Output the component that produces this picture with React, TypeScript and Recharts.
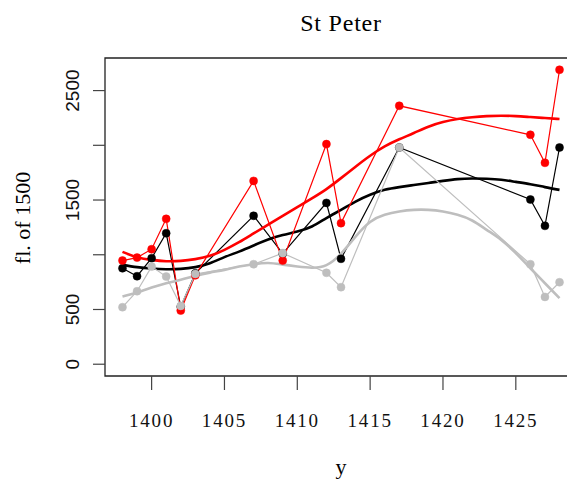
import React from 'react';
import { ComposedChart, Line, XAxis, YAxis, ReferenceArea } from 'recharts';

const years = [1398, 1399, 1400, 1401, 1402, 1403, 1407, 1409, 1412, 1413, 1417, 1426, 1427, 1428];
const blackVals = [877, 804, 969, 1197, 525, 830, 1356, 1010, 1474, 963, 1980, 1505, 1264, 1980];
const redVals = [947, 974, 1051, 1328, 490, 812, 1675, 947, 2011, 1289, 2361, 2096, 1840, 2690];
const grayVals = [521, 667, 892, 801, 533, 825, 914, 1015, 835, 704, 1980, 914, 615, 749];

const smoothYears = [1398, 1399, 1400, 1401, 1402, 1403, 1404, 1405, 1406, 1407, 1408, 1409, 1410, 1411, 1412, 1413, 1414, 1415, 1416, 1417, 1418, 1419, 1420, 1421, 1422, 1423, 1424, 1425, 1426, 1427, 1428];
const blackSmooth = [908, 887, 874, 868, 871, 887, 923, 978, 1029, 1085, 1140, 1180, 1212, 1258, 1335, 1410, 1486, 1548, 1593, 1618, 1637, 1656, 1675, 1691, 1697, 1694, 1685, 1666, 1645, 1618, 1593];
const redSmooth = [1026, 978, 953, 941, 944, 960, 990, 1045, 1115, 1195, 1275, 1355, 1435, 1515, 1600, 1700, 1805, 1905, 1990, 2055, 2112, 2170, 2212, 2240, 2257, 2267, 2270, 2267, 2258, 2249, 2240];
const graySmooth = [618, 655, 700, 740, 771, 807, 837, 862, 892, 914, 925, 910, 893, 882, 905, 1010, 1166, 1300, 1365, 1395, 1410, 1410, 1395, 1365, 1313, 1228, 1136, 1015, 877, 740, 603];

const xTicks = [1400, 1405, 1410, 1415, 1420, 1425];
const yTicks = [0, 500, 1000, 1500, 2000, 2500];
const yLabelled = [0, 500, 1500, 2500];

const title = 'St Peter';
const xTitle = 'y';
const yTitle = 'fl. of 1500';

const RED = '#FF0000';
const GRAY = '#BEBEBE';
const BLACK = '#000000';

const raw = (vals: number[]) => years.map((x, i) => ({ x, v: vals[i] }));
const smooth = (vals: number[]) => smoothYears.map((x, i) => ({ x, v: vals[i] }));

const XDOM: [number, number] = [1396.8, 1429.2];
const YDOM: [number, number] = [-107.6, 2797.6];

const serif = '"Liberation Serif", "DejaVu Serif", serif';
const sans = '"Liberation Sans", Arial, sans-serif';

const XTick = (props: any) => {
  const { x, payload } = props;
  return (
    <text x={x} y={427} textAnchor="middle" fontFamily={serif} fontSize={19} letterSpacing={1.8} fill="#111">
      {payload.value}
    </text>
  );
};

const YTick = (props: any) => {
  const { y, payload } = props;
  if (!yLabelled.includes(payload.value)) return <g />;
  return (
    <text
      x={73}
      y={y}
      transform={`rotate(-90, 73, ${y})`}
      textAnchor="middle"
      dominantBaseline="central"
      fontFamily={sans}
      fontSize={19}
      fill="#111"
    >
      {payload.value}
    </text>
  );
};

const dot = (color: string) => ({ r: 4, fill: color, stroke: color, strokeWidth: 0.5 });

export default function App() {
  const W = 600;
  const H = 479;
  return (
    <div style={{ position: 'absolute', left: 0, top: 0, width: 567, height: 479, overflow: 'hidden', background: '#fff' }}>
      <ComposedChart width={W} height={H} margin={{ top: 58, right: W - 577, left: 0, bottom: 0 }}>
        <XAxis
          type="number"
          dataKey="x"
          domain={XDOM}
          ticks={xTicks}
          allowDataOverflow
          axisLine={false}
          tickLine={{ stroke: '#444', strokeWidth: 1.2 }}
          tickSize={14}
          height={103}
          tick={<XTick />}
          interval={0}
        />
        <YAxis
          type="number"
          domain={YDOM}
          ticks={yTicks}
          allowDataOverflow
          axisLine={false}
          tickLine={{ stroke: '#444', strokeWidth: 1.2 }}
          tickSize={12}
          width={105}
          tick={<YTick />}
          interval={0}
        />
        <ReferenceArea x1={XDOM[0]} x2={XDOM[1]} y1={YDOM[0]} y2={YDOM[1]} fill="none" stroke="#222" strokeWidth={1.3} ifOverflow="visible" />
        <Line data={raw(blackVals)} dataKey="v" type="linear" stroke={BLACK} strokeWidth={1.2} dot={dot(BLACK)} activeDot={false} isAnimationActive={false} />
        <Line data={smooth(blackSmooth)} dataKey="v" type="natural" stroke={BLACK} strokeWidth={2.6} dot={false} activeDot={false} isAnimationActive={false} />
        <Line data={raw(redVals)} dataKey="v" type="linear" stroke={RED} strokeWidth={1.2} dot={dot(RED)} activeDot={false} isAnimationActive={false} />
        <Line data={smooth(redSmooth)} dataKey="v" type="natural" stroke={RED} strokeWidth={2.6} dot={false} activeDot={false} isAnimationActive={false} />
        <Line data={raw(grayVals)} dataKey="v" type="linear" stroke={GRAY} strokeWidth={1.2} dot={dot(GRAY)} activeDot={false} isAnimationActive={false} />
        <Line data={smooth(graySmooth)} dataKey="v" type="natural" stroke={GRAY} strokeWidth={2.6} dot={false} activeDot={false} isAnimationActive={false} />
      </ComposedChart>
      <svg width={567} height={479} style={{ position: 'absolute', left: 0, top: 0, pointerEvents: 'none' }}>
        <text x={341} y={31} textAnchor="middle" fontFamily={serif} fontSize={24} letterSpacing={0.8} fill="#000">{title}</text>
        <text x={341} y={474} textAnchor="middle" fontFamily={serif} fontSize={22} fill="#000">{xTitle}</text>
        <text x={30} y={218} transform="rotate(-90, 30, 218)" textAnchor="middle" fontFamily={serif} fontSize={22} fill="#000">{yTitle}</text>
      </svg>
    </div>
  );
}
